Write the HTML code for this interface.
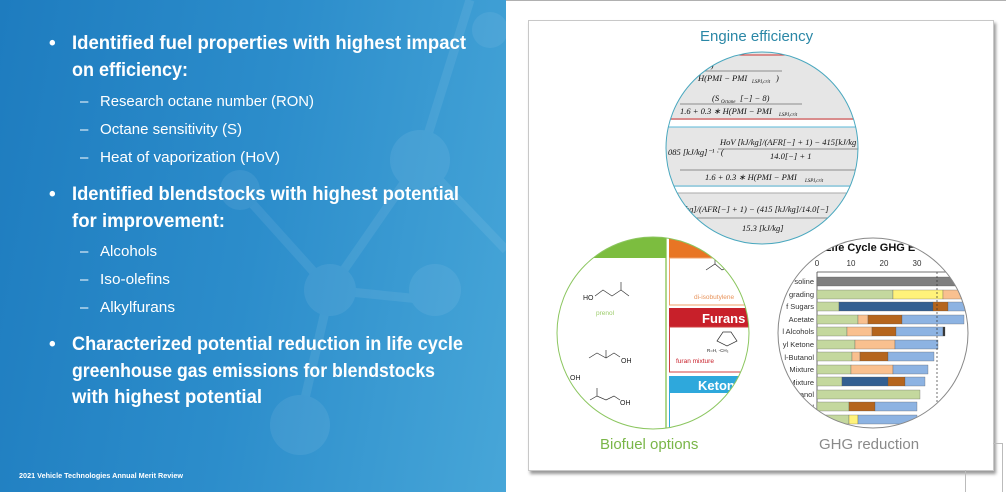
<!DOCTYPE html>
<html><head><meta charset="utf-8"><style>
*{margin:0;padding:0}
body{width:1006px;height:492px;position:relative;overflow:hidden;background:#fff;font-family:"Liberation Sans",sans-serif}
#left{position:absolute;left:0;top:0;width:506px;height:492px;background:linear-gradient(100deg,#1e7cbf 0%,#2c8dcb 50%,#47a6d8 100%);overflow:hidden;color:#fff}
.t{position:absolute;white-space:nowrap}
</style></head><body>
<div id="left">
<svg width="506" height="492" style="position:absolute;left:0;top:0" opacity="0.09">
<g stroke="#d8ecf8" stroke-width="9" fill="none"><line x1="420" y1="160" x2="470" y2="0"/><line x1="420" y1="160" x2="506" y2="250"/><line x1="420" y1="160" x2="330" y2="290"/><line x1="330" y1="290" x2="300" y2="420"/><line x1="330" y1="290" x2="240" y2="190"/><line x1="330" y1="290" x2="430" y2="300"/></g>
<g fill="#cfe6f5"><circle cx="420" cy="160" r="30"/><circle cx="330" cy="290" r="26"/><circle cx="300" cy="425" r="30"/><circle cx="435" cy="290" r="26"/><circle cx="240" cy="190" r="20"/><circle cx="490" cy="30" r="18"/></g>
</svg>
<svg width="506" height="492" style="position:absolute;left:0;top:0" font-family="Liberation Sans,sans-serif" fill="#fff">
<g font-size="19" font-weight="bold">
<text x="49" y="49">•</text><text x="49" y="200">•</text><text x="49" y="350">•</text>
<text x="72" y="49" textLength="394" lengthAdjust="spacingAndGlyphs">Identified fuel properties with highest impact</text>
<text x="72" y="76" textLength="116" lengthAdjust="spacingAndGlyphs">on efficiency:</text>
<text x="72" y="200" textLength="387" lengthAdjust="spacingAndGlyphs">Identified blendstocks with highest potential</text>
<text x="72" y="227" textLength="153" lengthAdjust="spacingAndGlyphs">for improvement:</text>
<text x="72" y="350" textLength="391" lengthAdjust="spacingAndGlyphs">Characterized potential reduction in life cycle</text>
<text x="72" y="377" textLength="363" lengthAdjust="spacingAndGlyphs">greenhouse gas emissions for blendstocks</text>
<text x="72" y="403" textLength="190" lengthAdjust="spacingAndGlyphs">with highest potential</text>
</g>
<g font-size="15">
<text x="80" y="106">–</text><text x="80" y="134">–</text><text x="80" y="162">–</text>
<text x="80" y="256">–</text><text x="80" y="284">–</text><text x="80" y="312">–</text>
<text x="100" y="106" textLength="214" lengthAdjust="spacingAndGlyphs">Research octane number (RON)</text>
<text x="100" y="134" textLength="142" lengthAdjust="spacingAndGlyphs">Octane sensitivity (S)</text>
<text x="100" y="162" textLength="180" lengthAdjust="spacingAndGlyphs">Heat of vaporization (HoV)</text>
<text x="100" y="256" textLength="57" lengthAdjust="spacingAndGlyphs">Alcohols</text>
<text x="100" y="284" textLength="70" lengthAdjust="spacingAndGlyphs">Iso-olefins</text>
<text x="100" y="312" textLength="75" lengthAdjust="spacingAndGlyphs">Alkylfurans</text>
</g>
<text x="19" y="478" font-size="7" font-weight="bold" textLength="164" lengthAdjust="spacingAndGlyphs">2021 Vehicle Technologies Annual Merit Review</text>
</svg>
</div>
<div style="position:absolute;left:506px;top:0;width:500px;height:1px;background:#b0b0b0"></div>
<div style="position:absolute;left:528px;top:20px;width:464px;height:449px;border:1px solid #c8c8c8;box-shadow:2px 3px 3px #999;background:#fff"></div>
<div style="position:absolute;left:965px;top:470px;width:1px;height:22px;background:#bbb"></div>
<div style="position:absolute;left:1002px;top:443px;width:1px;height:49px;background:#bbb"></div>
<div style="position:absolute;left:993px;top:443px;width:10px;height:1px;background:#bbb"></div>
<div class="t" style="left:700px;top:28px;font-size:15px;color:#2a87a6">Engine efficiency</div>
<div class="t" style="left:600px;top:436px;font-size:15px;color:#7ab648">Biofuel options</div>
<div class="t" style="left:819px;top:436px;font-size:15px;color:#8a8a8a">GHG reduction</div>
<svg width="1006" height="492" style="position:absolute;left:0;top:0" font-family="Liberation Serif,serif">
<defs>
<clipPath id="c1"><circle cx="762" cy="148" r="96"/></clipPath>
<clipPath id="c2"><circle cx="653" cy="333" r="96"/></clipPath>
<clipPath id="c3"><circle cx="873" cy="333" r="95"/></clipPath>
</defs>
<g clip-path="url(#c1)">
<rect x="660" y="50" width="210" height="200" fill="#e6e6e6"/>
<line x1="660" y1="55" x2="870" y2="55" stroke="#c33" stroke-width="1"/>
<line x1="660" y1="119" x2="870" y2="119" stroke="#c33" stroke-width="1"/>
<rect x="660" y="120" width="210" height="7" fill="#fff"/>
<line x1="660" y1="127" x2="870" y2="127" stroke="#5bb8d8"/>
<line x1="660" y1="186" x2="870" y2="186" stroke="#5bb8d8"/>
<rect x="660" y="187" width="210" height="6" fill="#fff"/>
<line x1="660" y1="193" x2="870" y2="193" stroke="#aaa"/>
<g font-size="8.5" font-style="italic" fill="#111">
<text x="680" y="68">[−] − 91)</text><line x1="680" y1="71" x2="782" y2="71" stroke="#333" stroke-width=".6"/>
<text x="698" y="81">H(PMI − PMI</text><text x="752" y="83" font-size="5">LSPI,crit</text><text x="776" y="81">)</text>
<text x="712" y="101">(S</text><text x="721" y="103" font-size="5">Octane</text><text x="740" y="101">[−] − 8)</text><line x1="680" y1="104" x2="802" y2="104" stroke="#333" stroke-width=".6"/>
<text x="680" y="114">1.6 + 0.3 ∗ H(PMI − PMI</text><text x="779" y="116" font-size="5">LSPI,crit</text>
<text x="668" y="155">085 [kJ/kg]⁻¹ · (</text>
<text x="720" y="145">HoV [kJ/kg]/(AFR[−] + 1) − 415[kJ/kg</text><line x1="718" y1="149" x2="870" y2="149" stroke="#333" stroke-width=".6"/>
<text x="770" y="159">14.0[−] + 1</text><line x1="680" y1="170" x2="870" y2="170" stroke="#333" stroke-width=".6"/>
<text x="705" y="180">1.6 + 0.3 ∗ H(PMI − PMI</text><text x="805" y="182" font-size="5">LSPI,crit</text>
<text x="683" y="212">/kg]/(AFR[−] + 1) − (415 [kJ/kg]/14.0[−]</text><line x1="680" y1="218" x2="840" y2="218" stroke="#333" stroke-width=".6"/>
<text x="742" y="231">15.3 [kJ/kg]</text>
</g>
</g>
<circle cx="762" cy="148" r="96" fill="none" stroke="#4aa8bf" stroke-width="1"/>
<g clip-path="url(#c2)">
<rect x="550" y="230" width="210" height="210" fill="#fff"/>
<rect x="550" y="230" width="116" height="28" fill="#7cbd3f"/>
<line x1="666" y1="230" x2="666" y2="440" stroke="#7cbd3f" stroke-width="1.2"/>
<rect x="669" y="230" width="90" height="28" fill="#e87524"/>
<rect x="669.5" y="258" width="90" height="47" fill="none" stroke="#f0a06a"/>
<rect x="669" y="308" width="90" height="19" fill="#c8202a"/>
<text x="702" y="323" font-family="Liberation Sans" font-size="13" font-weight="bold" fill="#fff">Furans</text>
<rect x="669.5" y="327" width="90" height="45" fill="none" stroke="#d04040"/>
<rect x="669" y="376" width="90" height="17" fill="#2ea8dc"/>
<text x="698" y="390" font-family="Liberation Sans" font-size="13" font-weight="bold" fill="#fff">Keton</text>
<line x1="669.5" y1="393" x2="669.5" y2="440" stroke="#2ea8dc"/>
<g font-family="Liberation Sans" font-size="6.5">
<text x="694" y="299" fill="#e8935a">di-isobutylene</text>
<text x="596" y="315" fill="#9ccc6a">prenol</text>
<text x="676" y="363" fill="#c8202a">furan mixture</text>
<text x="583" y="300" fill="#222" font-size="7">HO</text>
<text x="621" y="363" fill="#222" font-size="7">OH</text>
<text x="570" y="380" fill="#222" font-size="7">OH</text>
<text x="620" y="405" fill="#222" font-size="7">OH</text>
<text x="707" y="352" fill="#222" font-size="4.5">R=H, -CH₃</text>
</g>
<g stroke="#333" stroke-width=".7" fill="none">
<polyline points="595,296 603,290 612,296 621,290 629,296"/><line x1="621" y1="290" x2="621" y2="282"/>
<polyline points="589,358 597,353 606,358 614,353 620,357"/><line x1="606" y1="358" x2="606" y2="350"/>
<polyline points="590,400 597,396 606,400 614,396 620,400"/><line x1="597" y1="396" x2="597" y2="388"/>
<polygon points="717,341 723,332 731,332 737,341 727,346"/>
<polyline points="706,270 715,264 722,270 730,266"/><line x1="715" y1="264" x2="715" y2="256"/>
</g>
</g>
<circle cx="653" cy="333" r="96" fill="none" stroke="#8cc660" stroke-width="1"/>
<g clip-path="url(#c3)" font-family="Liberation Sans">
<rect x="770" y="230" width="210" height="210" fill="#fff"/>
<text x="870" y="251" font-size="11" font-weight="bold" text-anchor="middle" fill="#111">Life Cycle GHG E</text>
<g font-size="8" fill="#333" text-anchor="middle"><text x="817" y="266">0</text><text x="851" y="266">10</text><text x="884" y="266">20</text><text x="917" y="266">30</text></g>
<line x1="817" y1="272" x2="817" y2="430" stroke="#444" stroke-width=".8"/>
<line x1="817" y1="272" x2="970" y2="272" stroke="#444" stroke-width=".8"/>
<g font-size="7.5" fill="#333" text-anchor="end">
<text x="814" y="284">soline</text><text x="814" y="297">grading</text><text x="814" y="309">f Sugars</text><text x="814" y="322">Acetate</text><text x="814" y="334">l Alcohols</text><text x="814" y="347">yl Ketone</text><text x="814" y="360">l-Butanol</text><text x="814" y="372">Mixture</text><text x="814" y="385">Mixture</text><text x="814" y="397">anol</text><text x="814" y="410">l</text>
</g>
<g stroke="#555" stroke-width=".3">
<rect x="817" y="277" width="150" height="9" fill="#7f7f7f"/>
<rect x="817" y="290" width="76" height="9" fill="#c4d89e"/><rect x="893" y="290" width="50" height="9" fill="#fff27a"/><rect x="943" y="290" width="25" height="9" fill="#f9c08f"/>
<rect x="817" y="302" width="22" height="9" fill="#c4d89e"/><rect x="839" y="302" width="94" height="9" fill="#335f91"/><rect x="933" y="302" width="15" height="9" fill="#b5651d"/><rect x="948" y="302" width="20" height="9" fill="#8db3e2"/>
<rect x="817" y="315" width="41" height="9" fill="#c4d89e"/><rect x="858" y="315" width="10" height="9" fill="#f9c08f"/><rect x="868" y="315" width="34" height="9" fill="#b5651d"/><rect x="902" y="315" width="62" height="9" fill="#8db3e2"/>
<rect x="817" y="327" width="30" height="9" fill="#c4d89e"/><rect x="847" y="327" width="25" height="9" fill="#f9c08f"/><rect x="872" y="327" width="24" height="9" fill="#b5651d"/><rect x="896" y="327" width="47" height="9" fill="#8db3e2"/><rect x="943" y="327" width="2" height="9" fill="#333"/>
<rect x="817" y="340" width="38" height="9" fill="#c4d89e"/><rect x="855" y="340" width="40" height="9" fill="#f9c08f"/><rect x="895" y="340" width="43" height="9" fill="#8db3e2"/>
<rect x="817" y="352" width="35" height="9" fill="#c4d89e"/><rect x="852" y="352" width="8" height="9" fill="#f9c08f"/><rect x="860" y="352" width="28" height="9" fill="#b5651d"/><rect x="888" y="352" width="46" height="9" fill="#8db3e2"/>
<rect x="817" y="365" width="34" height="9" fill="#c4d89e"/><rect x="851" y="365" width="42" height="9" fill="#f9c08f"/><rect x="893" y="365" width="35" height="9" fill="#8db3e2"/>
<rect x="817" y="377" width="25" height="9" fill="#c4d89e"/><rect x="842" y="377" width="46" height="9" fill="#335f91"/><rect x="888" y="377" width="17" height="9" fill="#b5651d"/><rect x="905" y="377" width="20" height="9" fill="#8db3e2"/>
<rect x="817" y="390" width="103" height="9" fill="#c4d89e"/>
<rect x="817" y="402" width="32" height="9" fill="#c4d89e"/><rect x="849" y="402" width="26" height="9" fill="#b5651d"/><rect x="875" y="402" width="42" height="9" fill="#8db3e2"/>
<rect x="817" y="415" width="32" height="9" fill="#c4d89e"/><rect x="849" y="415" width="9" height="9" fill="#fff27a"/><rect x="858" y="415" width="59" height="9" fill="#8db3e2"/>
</g>
<line x1="937" y1="272" x2="937" y2="430" stroke="#333" stroke-width=".7" stroke-dasharray="2,2"/>
</g>
<circle cx="873" cy="333" r="95" fill="none" stroke="#888" stroke-width="1"/>
</svg>
</body></html>
